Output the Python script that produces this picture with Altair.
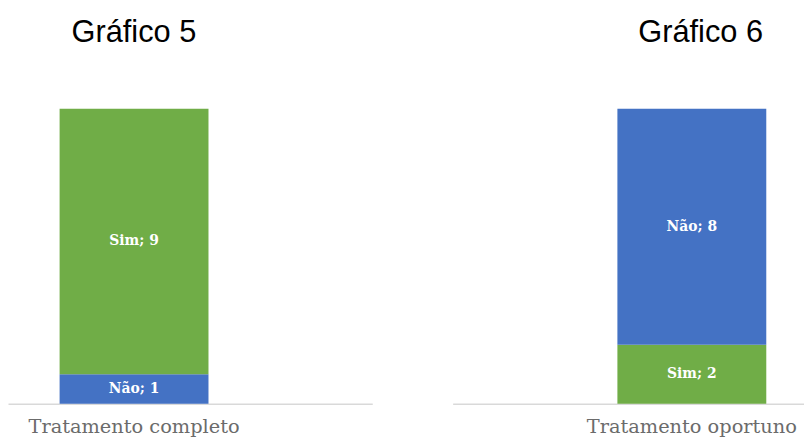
import altair as alt
import pandas as pd

# Data
cat5 = ["Tratamento completo", "Tratamento completo"]
resp5 = ["Não", "Sim"]
val5 = [1, 9]
ord5 = [1, 2]

cat6 = ["Tratamento oportuno", "Tratamento oportuno"]
resp6 = ["Sim", "Não"]
val6 = [2, 8]
ord6 = [1, 2]

titles = ["Gráfico 5", "Gráfico 6"]
respostas = ["Sim", "Não"]
cores = ["#70AD47", "#4472C4"]


def panel(cats, resps, vals, ords, title, width, pad_outer, align, title_dx):
    df = pd.DataFrame({"cat": cats, "resp": resps, "val": vals, "ordem": ords})
    base = alt.Chart(df)
    xenc = alt.X(
        "cat:N",
        title=None,
        scale=alt.Scale(paddingInner=0, paddingOuter=pad_outer, align=align),
        axis=alt.Axis(
            labelAngle=0,
            ticks=False,
            domainColor="#d9d9d9",
            domainWidth=1.5,
            labelFont="DejaVu Serif",
            labelFontSize=19.5,
            labelColor="#6b6b6b",
            labelPadding=14,
            labelLimit=0,
        ),
    )
    bars = base.mark_bar().encode(
        x=xenc,
        y=alt.Y("val:Q", stack="zero", scale=alt.Scale(domain=[0, 10]), axis=None),
        color=alt.Color("resp:N", scale=alt.Scale(domain=respostas, range=cores), legend=None),
        order=alt.Order("ordem:Q"),
    )
    texts = (
        base.transform_stack(
            stack="val", groupby=["cat"], as_=["y0", "y1"], sort=[alt.SortField("ordem")]
        )
        .transform_calculate(mid="(datum.y0 + datum.y1) / 2", lab="datum.resp + '; ' + datum.val")
        .mark_text(font="DejaVu Serif", fontWeight="bold", fontSize=14, color="white")
        .encode(x=alt.X("cat:N"), y=alt.Y("mid:Q"), text="lab:N")
    )
    return alt.layer(bars, texts).properties(
        width=width,
        height=297,
        title=alt.TitleParams(
            title,
            font="Liberation Sans",
            fontSize=31,
            fontWeight="normal",
            color="black",
            anchor="start",
            dx=title_dx,
            offset=60,
        ),
    )


p5 = panel(cat5, resp5, val5, ord5, titles[0], 367, 0.7233, 0.2396, 64)
p6 = panel(cat6, resp6, val6, ord6, titles[1], 354, 0.68, 0.8137, 187)

chart = (
    alt.hconcat(p5, p6, spacing=81)
    .resolve_scale(x="independent")
    .properties(padding={"left": 0, "top": 8, "right": 0, "bottom": 0})
    .configure_view(stroke=None)
)

chart.save("out.html", embed_options={"renderer": "svg", "actions": False})
